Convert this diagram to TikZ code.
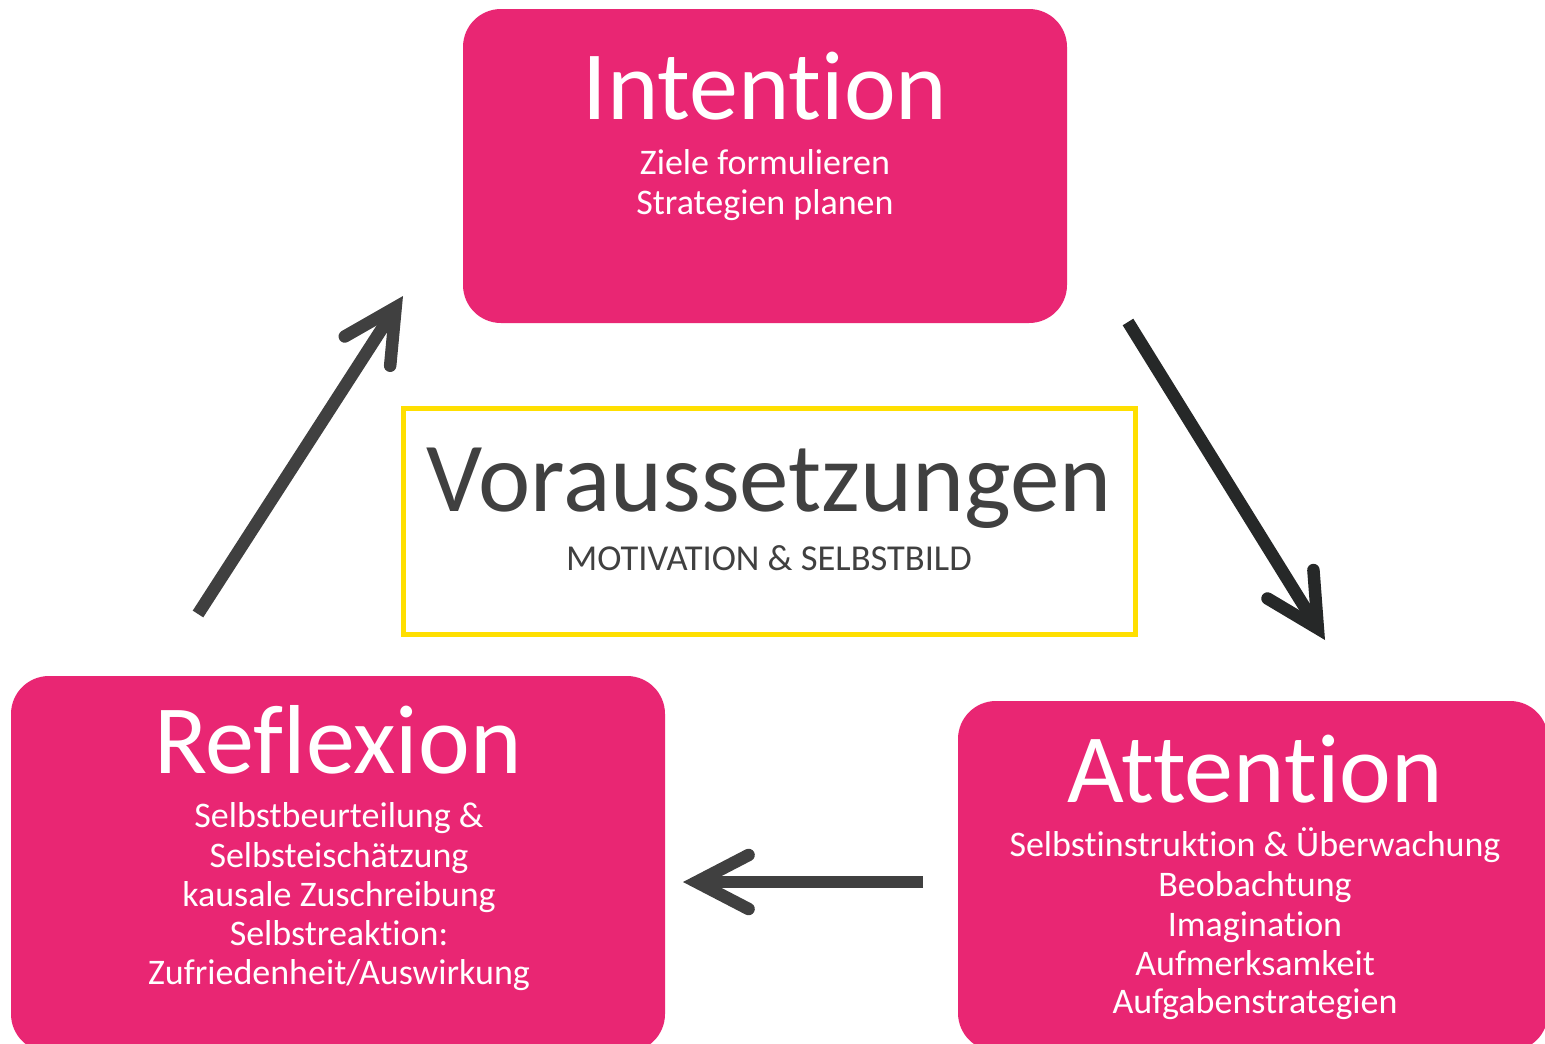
\documentclass[tikz,border=0pt]{standalone}
\usepackage{fontspec}
\setmainfont{Carlito}[Ligatures=NoCommon]
\usetikzlibrary{arrows.meta}
\definecolor{pinkbox}{HTML}{E92673}
\definecolor{ybox}{HTML}{FFDF00}
\definecolor{darkg}{HTML}{404040}
\definecolor{darkerg}{HTML}{262828}
\tikzset{
  pbox/.style={fill=pinkbox, draw=none, rounded corners=38pt, inner sep=0pt, outer sep=0pt, anchor=north west},
  ttl/.style={text=white, font=\fontsize{98}{100}\selectfont, anchor=base, inner sep=0pt},
  sub/.style={text=white, font=\fontsize{36}{40}\selectfont, anchor=base, inner sep=0pt},
  arr/.style={line width=12.5pt, -{Straight Barb[length=52pt,width=54pt,line cap=round,line join=miter]}},
}
\begin{document}
\begin{tikzpicture}[x=1pt,y=-1pt]
\useasboundingbox (0,0) rectangle (1545,1044);
\clip (0,0) rectangle (1545,1044);
\fill[white] (0,0) rectangle (1545,1044);

% boxes
\node[pbox, minimum width=604pt, minimum height=314pt] (intbox) at (463,9) {};
\node[pbox, minimum width=654pt, minimum height=376pt] (refbox) at (11,676) {};
\node[pbox, minimum width=590pt, minimum height=350pt] (attbox) at (958,701) {};
\node[draw=ybox, line width=5pt, minimum width=732pt, minimum height=226pt,
      inner sep=0pt, outer sep=0pt, anchor=north west] (prebox) at (403.5,408.5) {};

% Intention
\node[ttl] (intT) at (765,119) {Intention};
\node[sub] (intS1) at (765,174) {Ziele formulieren};
\node[sub] (intS2) at (765,214) {Strategien planen};

% Voraussetzungen
\node[ttl, text=darkg, font=\fontsize{99}{100}\selectfont] (preT) at (769,511) {Voraussetzungen};
\node[sub, text=darkg, font=\fontsize{36.5}{40}\selectfont] (preS) at (769,570) {MOTIVATION \& SELBSTBILD};

% Reflexion
\node[ttl] (refT) at (338,773) {Reflexion};
\node[sub] (refS1) at (339,827) {Selbstbeurteilung \&};
\node[sub] (refS2) at (339,867) {Selbsteischätzung};
\node[sub] (refS3) at (339,906) {kausale Zuschreibung};
\node[sub] (refS4) at (339,945) {Selbstreaktion:};
\node[sub] (refS5) at (339,984) {Zufriedenheit/Auswirkung};

% Attention
\node[ttl] (attT) at (1255,802) {Attention};
\node[sub] (attS1) at (1255,856) {Selbstinstruktion \& Überwachung};
\node[sub] (attS2) at (1255,896) {Beobachtung};
\node[sub] (attS3) at (1255,936) {Imagination};
\node[sub] (attS4) at (1255,975) {Aufmerksamkeit};
\node[sub] (attS5) at (1255,1013) {Aufgabenstrategien};

% arrows
\coordinate (a1s) at (198,614);
\coordinate (a1e) at (403,296);
\coordinate (a2s) at (1128,322);
\coordinate (a2e) at (1325,640);
\coordinate (a3s) at (923,882);
\coordinate (a3e) at (683,882);
\draw[arr, darkg] (a1s) -- (a1e);
\draw[arr, darkerg] (a2s) -- (a2e);
\draw[arr, darkg] (a3s) -- (a3e);
\end{tikzpicture}
\end{document}
